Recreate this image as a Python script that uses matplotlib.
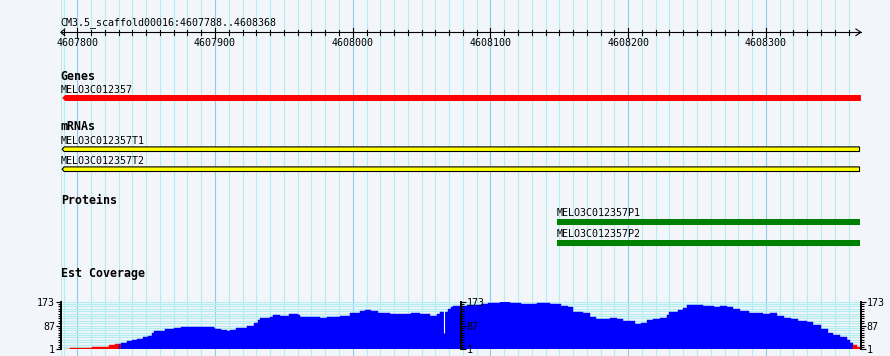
import numpy as np
import matplotlib.pyplot as plt
from matplotlib.patches import Polygon

plt.rcParams['font.family'] = ['DejaVu Sans Mono']

# region shown
region = "CM3.5_scaffold00016:4607788..4608368"
win_start, win_end = 4607788, 4608369

gene_name = "MELO3C012357"
gene_start, gene_end = 4607789, 4608369

mrna_names = ["MELO3C012357T1", "MELO3C012357T2"]
mrna_starts = [4607789, 4607789]
mrna_ends = [4608368, 4608368]

protein_names = ["MELO3C012357P1", "MELO3C012357P2"]
protein_starts = [4608148, 4608148]
protein_ends = [4608368, 4608368]

# EST coverage, step values starting at each position
cov_pos = [4607791, 4607795, 4607811, 4607823, 4607827, 4607830, 4607831, 4607832,
           4607836, 4607840, 4607843, 4607848, 4607851, 4607854, 4607856, 4607864,
           4607870, 4607875, 4607880, 4607884, 4607889, 4607899, 4607900, 4607904,
           4607909, 4607911, 4607915, 4607918, 4607923, 4607928, 4607931, 4607933,
           4607940, 4607942, 4607947, 4607954, 4607957, 4607960, 4607962, 4607976,
           4607981, 4607991, 4607998, 4608005, 4608009, 4608013, 4608018, 4608027,
           4608034, 4608042, 4608049, 4608056, 4608061, 4608063, 4608069, 4608071,
           4608073, 4608078, 4608083, 4608093, 4608098, 4608102, 4608107, 4608112,
           4608114, 4608122, 4608131, 4608134, 4608138, 4608143, 4608151, 4608156,
           4608160, 4608167, 4608172, 4608177, 4608182, 4608187, 4608192, 4608196,
           4608201, 4608205, 4608209, 4608214, 4608218, 4608223, 4608228, 4608230,
           4608236, 4608240, 4608243, 4608254, 4608262, 4608267, 4608272, 4608276,
           4608281, 4608288, 4608294, 4608298, 4608303, 4608308, 4608313, 4608318,
           4608323, 4608330, 4608334, 4608340, 4608345, 4608349, 4608354, 4608359,
           4608361, 4608363, 4608366]
cov_val = [3, 7, 10, 15, 19, 20, 19, 23,
           31, 35, 38, 44, 49, 61, 67, 74,
           79, 83, 80, 83, 82, 79, 74, 72,
           68, 71, 77, 79, 85, 95, 106, 115,
           119, 125, 122, 128, 128, 124, 119, 113,
           117, 121, 131, 138, 143, 140, 132, 128,
           127, 131, 127, 122, 128, 137, 145, 155,
           157, 158, 162, 164, 167, 169, 173, 173,
           169, 165, 165, 168, 169, 165, 157, 155,
           137, 131, 119, 109, 112, 115, 109, 104,
           102, 91, 97, 107, 110, 113, 125, 137,
           143, 149, 160, 157, 155, 157, 153, 148,
           139, 133, 131, 128, 131, 122, 115, 109,
           104, 101, 89, 74, 61, 53, 46, 35,
           25, 16, 8]
cov_end = 4608368
cov_min, cov_max = 1, 173
low_cut = 20
gap_pos, gap_lo, gap_hi = 4608066, 59, 143

W, H = 890, 356
bg = '#f2f5fa'
minor_grid = '#b0eef0'
major_grid = '#8fcbe8'

fig = plt.figure(figsize=(W / 100, H / 100), dpi=100, facecolor=bg)
left_px, right_px = 60.8, 860.9
ax = fig.add_axes([left_px / W, 0, (right_px - left_px) / W, 1])
ax.set_xlim(win_start, win_end)
ax.set_ylim(H, 0)
ax.axis('off')
px = (win_end - win_start) / (right_px - left_px)  # bp per pixel

# vertical grid
ax.axvline(win_start, color=minor_grid, lw=0.8, zorder=0)
for g in range(4607790, win_end, 10):
    ax.axvline(g, color=major_grid if g % 100 == 0 else minor_grid, lw=0.8, zorder=0)

# scale bar
ax.text(win_start, 25, region, fontsize=7.2, va='baseline', ha='left')
ax.plot([win_start, win_end], [32.3, 32.3], color='black', lw=0.8, clip_on=False)
ax.plot([win_start + 4 * px, win_start, win_start + 4 * px], [29, 32.3, 35.6],
        color='black', lw=0.8, clip_on=False)
ax.plot([win_end - 5 * px, win_end, win_end - 5 * px], [29, 32.3, 35.6],
        color='black', lw=0.8, clip_on=False)
for t in range(4607790, win_end, 10):
    if t % 100 == 0:
        ax.plot([t, t], [27.7, 36.5], color='black', lw=0.8)
        ax.text(t, 45.7, str(t), fontsize=7.2, ha='center', va='baseline')
    else:
        ax.plot([t, t], [30, 34.7], color='black', lw=0.8)


def feature(y, h, x0, x1, face, edge=None, tip=3):
    pts = [(x0, y), (x0 + tip * px, y - h / 2), (x1, y - h / 2),
           (x1, y + h / 2), (x0 + tip * px, y + h / 2)]
    ax.add_patch(Polygon(pts, closed=True, facecolor=face,
                         edgecolor=edge if edge else face,
                         lw=0.8 if edge else 0, zorder=3))


# Genes
ax.text(win_start, 80, "Genes", fontsize=8.4, fontweight='bold', va='baseline')
ax.text(win_start, 92.7, gene_name, fontsize=7.2, va='baseline')
feature(98, 6, gene_start, gene_end, '#ff0000', tip=3)

# mRNAs
ax.text(win_start, 130, "mRNAs", fontsize=8.4, fontweight='bold', va='baseline')
for i, name in enumerate(mrna_names):
    yl = 144 + 20 * i
    ax.text(win_start, yl, name, fontsize=7.2, va='baseline')
    feature(yl + 5.2, 4.6, mrna_starts[i], mrna_ends[i], '#ffff00', edge='black', tip=2)

# Proteins
ax.text(win_start, 204.3, "Proteins", fontsize=8.4, fontweight='bold', va='baseline')
for i, name in enumerate(protein_names):
    yl = 216 + 20.8 * i
    ax.text(protein_starts[i], yl, name, fontsize=7.2, va='baseline')
    ax.add_patch(plt.Rectangle((protein_starts[i], yl + 3.3), protein_ends[i] - protein_starts[i],
                               5.4, facecolor='#008000', lw=0, zorder=3))

# Est Coverage
ax.text(win_start, 277.5, "Est Coverage", fontsize=8.4, fontweight='bold', va='baseline')

cov_bot, cov_top = 349.3, 301.7
axc = fig.add_axes([left_px / W, 1 - cov_bot / H, (right_px - left_px) / W, (cov_bot - cov_top) / H])
axc.set_facecolor('none')
axc.set_xlim(win_start, win_end)
axc.set_ylim(cov_min, cov_max)
axc.set_axisbelow(True)

vals = np.array(cov_val)
widths = np.diff(cov_pos + [cov_end])
colors = np.where(vals < low_cut, '#ff0000', '#0000ff')
axc.bar(cov_pos, vals - cov_min, widths, bottom=cov_min, align='edge',
        color=colors, edgecolor=colors, lw=0.3, zorder=2)
axc.vlines(gap_pos, gap_lo, gap_hi, color='white', lw=0.8, zorder=3)

ticks_major = [1, 87, 173]
ticks_minor = np.linspace(cov_min, cov_max, 21)
axc.set_yticks(ticks_major)
axc.set_yticks(ticks_minor, minor=True)
axc.set_xticks([])
axc.grid(axis='y', which='minor', color=minor_grid, lw=0.8)
axc.grid(axis='y', which='major', color=minor_grid, lw=0.8)
for s in ['top', 'bottom']:
    axc.spines[s].set_visible(False)
for s in ['left', 'right']:
    axc.spines[s].set_linewidth(1.4)
axc.tick_params(axis='y', which='both', left=True, right=True, labelleft=True,
                labelright=True, direction='out', width=0.8, labelsize=7.2, pad=0.5)
axc.tick_params(axis='y', which='major', length=3.6)
axc.tick_params(axis='y', which='minor', length=2.0)

mid = axc.secondary_yaxis(0.5)
mid.set_zorder(10)
mid.set_yticks(ticks_major)
mid.set_yticks(ticks_minor, minor=True)
mid.spines['right'].set_linewidth(1.4)
mid.tick_params(axis='y', which='both', width=0.8, labelsize=7.2, pad=0.5)
mid.tick_params(axis='y', which='major', length=3.6)
mid.tick_params(axis='y', which='minor', length=2.0)

fig.savefig('out.png', dpi=100, facecolor=bg)
